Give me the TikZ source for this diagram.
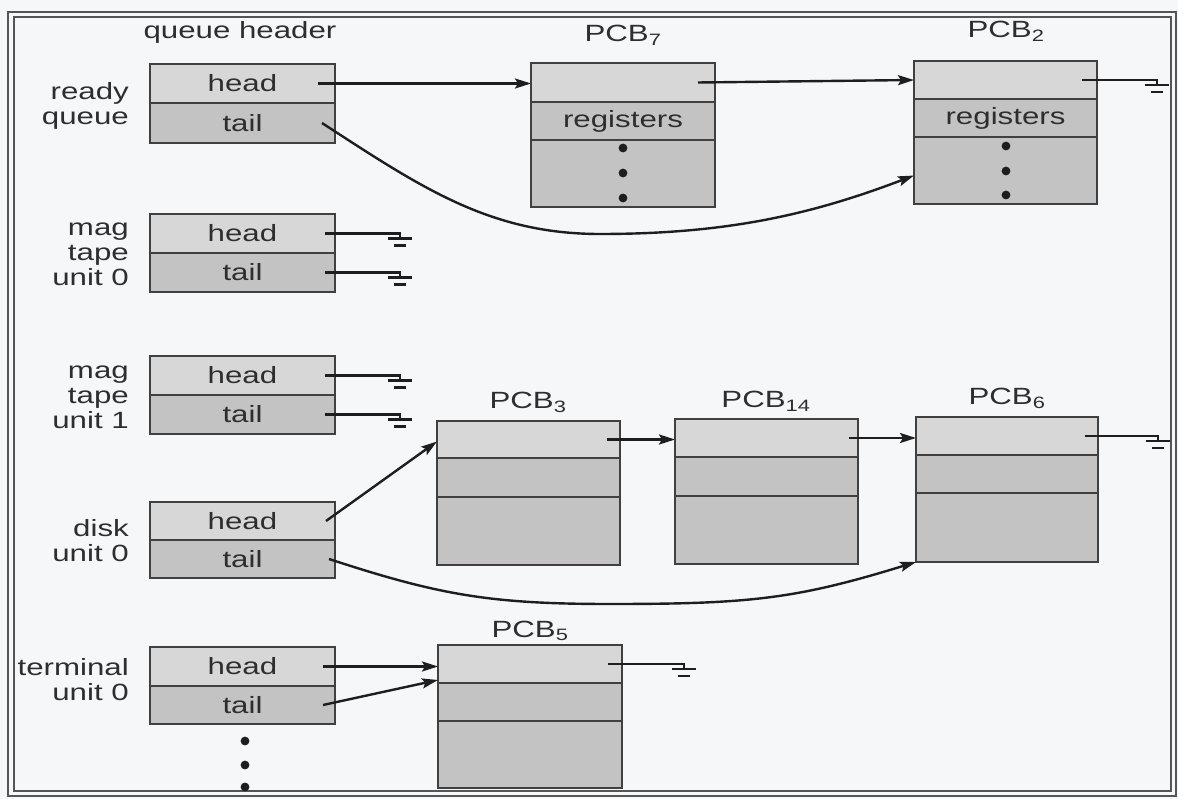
\documentclass[tikz,border=0pt]{standalone}
\usepackage{fontspec}
\setmainfont{Liberation Sans}[FakeStretch=1.33]
\usetikzlibrary{arrows.meta}
\definecolor{paper}{HTML}{F6F7F9}
\definecolor{cellA}{HTML}{D7D7D7}
\definecolor{cellB}{HTML}{C3C3C3}
\definecolor{ink}{HTML}{2E2E2E}
\definecolor{rule}{HTML}{404040}
\definecolor{framec}{HTML}{555555}
\definecolor{wirec}{HTML}{1E1E1E}

\newcommand{\hdrpair}[4]{%
  \node[cell,fill=cellA,minimum width=185pt,minimum height={(#3-#2)*1pt}] (#1h) at (242.5,{(#2+#3)/2}) {head};
  \node[cell,fill=cellB,minimum width=185pt,minimum height={(#4-#3)*1pt}] (#1t) at (242.5,{(#3+#4)/2}) {tail};}
\newcommand{\pcbbox}[8]{%
  \node[cell,fill=cellA,minimum width={(#3-#2)*1pt},minimum height={(#5-#4)*1pt}] (#1a) at ({(#2+#3)/2},{(#4+#5)/2}) {};
  \node[cell,fill=cellB,minimum width={(#3-#2)*1pt},minimum height={(#6-#5)*1pt}] (#1b) at ({(#2+#3)/2},{(#5+#6)/2}) {#8};
  \node[cell,fill=cellB,minimum width={(#3-#2)*1pt},minimum height={(#7-#6)*1pt}] (#1c) at ({(#2+#3)/2},{(#6+#7)/2}) {};}
\newcommand{\grounded}[2]{%
  \draw[wire] (#1) -- (#1 -| #2) coordinate (gtmp) -- ++(0,5);
  \draw[gbar] ([shift={(-12,5)}]gtmp) -- ++(24,0) ([shift={(-6,12)}]gtmp) -- ++(12,0);}

\begin{document}
\begin{tikzpicture}[x=1pt,y=-1pt,
  cell/.style={draw=rule, line width=1.4pt, inner sep=0pt, outer sep=0pt, text=ink,
    font=\fontsize{23.5}{25}\selectfont},
  lbl/.style={text=ink, inner sep=0pt, font=\fontsize{23.5}{25}\selectfont},
  side/.style={lbl, anchor=east, align=right},
  wire/.style={draw=wirec, line width=2.4pt},
  arr/.style={wire, -{Stealth[length=16pt,width=10pt,inset=3pt]}},
  gbar/.style={draw=wirec, line width=2.4pt},
  dot/.style={fill=wirec}]
\useasboundingbox (0,0) rectangle (1178,799);
\fill[paper] (0,0) rectangle (1178,799);
\draw[framec, line width=1.6pt] (8,12) rectangle (1176,796);
\draw[framec, line width=1.6pt] (14,17) rectangle (1171,791);

% queue headers
\node[lbl, anchor=base] (qhdr) at (240,39) {queue header};
\hdrpair{rq}{64}{103}{143}
\hdrpair{mz}{214}{253}{292}
\hdrpair{mo}{356}{395}{434}
\hdrpair{dk}{502}{540}{578}
\hdrpair{tm}{647}{686}{724}

\node[side] (lrq) at (129,106) {ready\\queue};
\node[side] (lmz) at (129,254) {mag\\tape\\unit 0};
\node[side] (lmo) at (129,397) {mag\\tape\\unit 1};
\node[side] (ldk) at (129,541) {disk\\unit 0};
\node[side] (ltm) at (129,680) {terminal\\unit 0};

% PCBs
\pcbbox{pseven}{531}{715}{63}{102}{140}{207}{registers}
\pcbbox{ptwo}{914}{1097}{61}{99}{137}{204}{registers}
\pcbbox{pthree}{437}{620}{421}{458}{497}{565}{}
\pcbbox{pfourteen}{675}{858}{419}{457}{496}{564}{}
\pcbbox{psix}{916}{1098}{417}{455}{493}{562}{}
\pcbbox{pfive}{438}{622}{645}{683}{721}{788}{}

\node[lbl, anchor=base] (lpseven) at (623,42) {PCB\textsubscript{7}};
\node[lbl, anchor=base] (lptwo) at (1006,38) {PCB\textsubscript{2}};
\node[lbl, anchor=base] (lpthree) at (528,409) {PCB\textsubscript{3}};
\node[lbl, anchor=base] (lpfourteen) at (766,408) {PCB\textsubscript{14}};
\node[lbl, anchor=base] (lpsix) at (1007,405) {PCB\textsubscript{6}};
\node[lbl, anchor=base] (lpfive) at (530,637) {PCB\textsubscript{5}};

% dots
\foreach \yy in {148,173,198} \fill[dot] (623,\yy) circle (4.4pt);
\foreach \yy in {146,171,195} \fill[dot] (1006,\yy) circle (4.4pt);
\foreach \yy in {741,765,787} \fill[dot] (245,\yy) circle (4.4pt);

% ready queue
\coordinate (rqhs) at ([xshift=-17pt]rqh.east);
\draw[arr] (rqhs) -- (rqhs -| psevena.west);
\coordinate (p7s) at ([xshift=-17pt]psevena.east);
\draw[arr] (p7s) -- (ptwoa.west);
\coordinate (rqts) at ([xshift=-13pt]rqt.east);
\coordinate (rqlow) at (600,234);
\coordinate (p2in) at ([yshift=-5pt]ptwoc.west);
\draw[arr] (rqts) .. controls +(100,65) and +(-110,0) .. (rqlow) .. controls +(130,0) and +(-100,38) .. (p2in);
\coordinate (p2s) at ([xshift=-15pt]ptwoa.east);
\coordinate (g2) at (1157,0);
\grounded{p2s}{g2}

% mag tapes
\coordinate (gm) at (400,0);
\coordinate (mzhs) at ([xshift=-10pt]mzh.east);
\coordinate (mzts) at ([xshift=-10pt]mzt.east);
\coordinate (mohs) at ([xshift=-10pt]moh.east);
\coordinate (mots) at ([xshift=-10pt]mot.east);
\grounded{mzhs}{gm}
\grounded{mzts}{gm}
\grounded{mohs}{gm}
\grounded{mots}{gm}

% disk
\coordinate (dkhs) at ([xshift=-9pt]dkh.east);
\draw[arr] (dkhs) -- ([yshift=-2pt]pthreea.west);
\coordinate (p3s) at ([xshift=-13pt]pthreea.east);
\draw[arr] (p3s) -- (p3s -| pfourteena.west);
\coordinate (p14s) at ([xshift=-9pt]pfourteena.east);
\draw[arr] (p14s) -- (p14s -| psixa.west);
\coordinate (dkts) at ([xshift=-6pt]dkt.east);
\coordinate (dklow) at (610,604);
\draw[arr] (dkts) .. controls +(110,36) and +(-120,0) .. (dklow) .. controls +(140,0) and +(-120,37) .. (psixc.south west);
\coordinate (p6s) at ([xshift=-13pt]psixa.east);
\coordinate (g6) at (1158,0);
\grounded{p6s}{g6}

% terminal
\coordinate (tmhs) at ([xshift=-12pt]tmh.east);
\draw[arr] (tmhs) -- (tmhs -| pfivea.west);
\coordinate (tmts) at ([xshift=-12pt]tmt.east);
\draw[arr] (tmts) -- ([yshift=-16pt]pfivea.west);
\coordinate (p5s) at ([xshift=-14pt]pfivea.east);
\coordinate (g5) at (684,0);
\grounded{p5s}{g5}
\end{tikzpicture}
\end{document}
